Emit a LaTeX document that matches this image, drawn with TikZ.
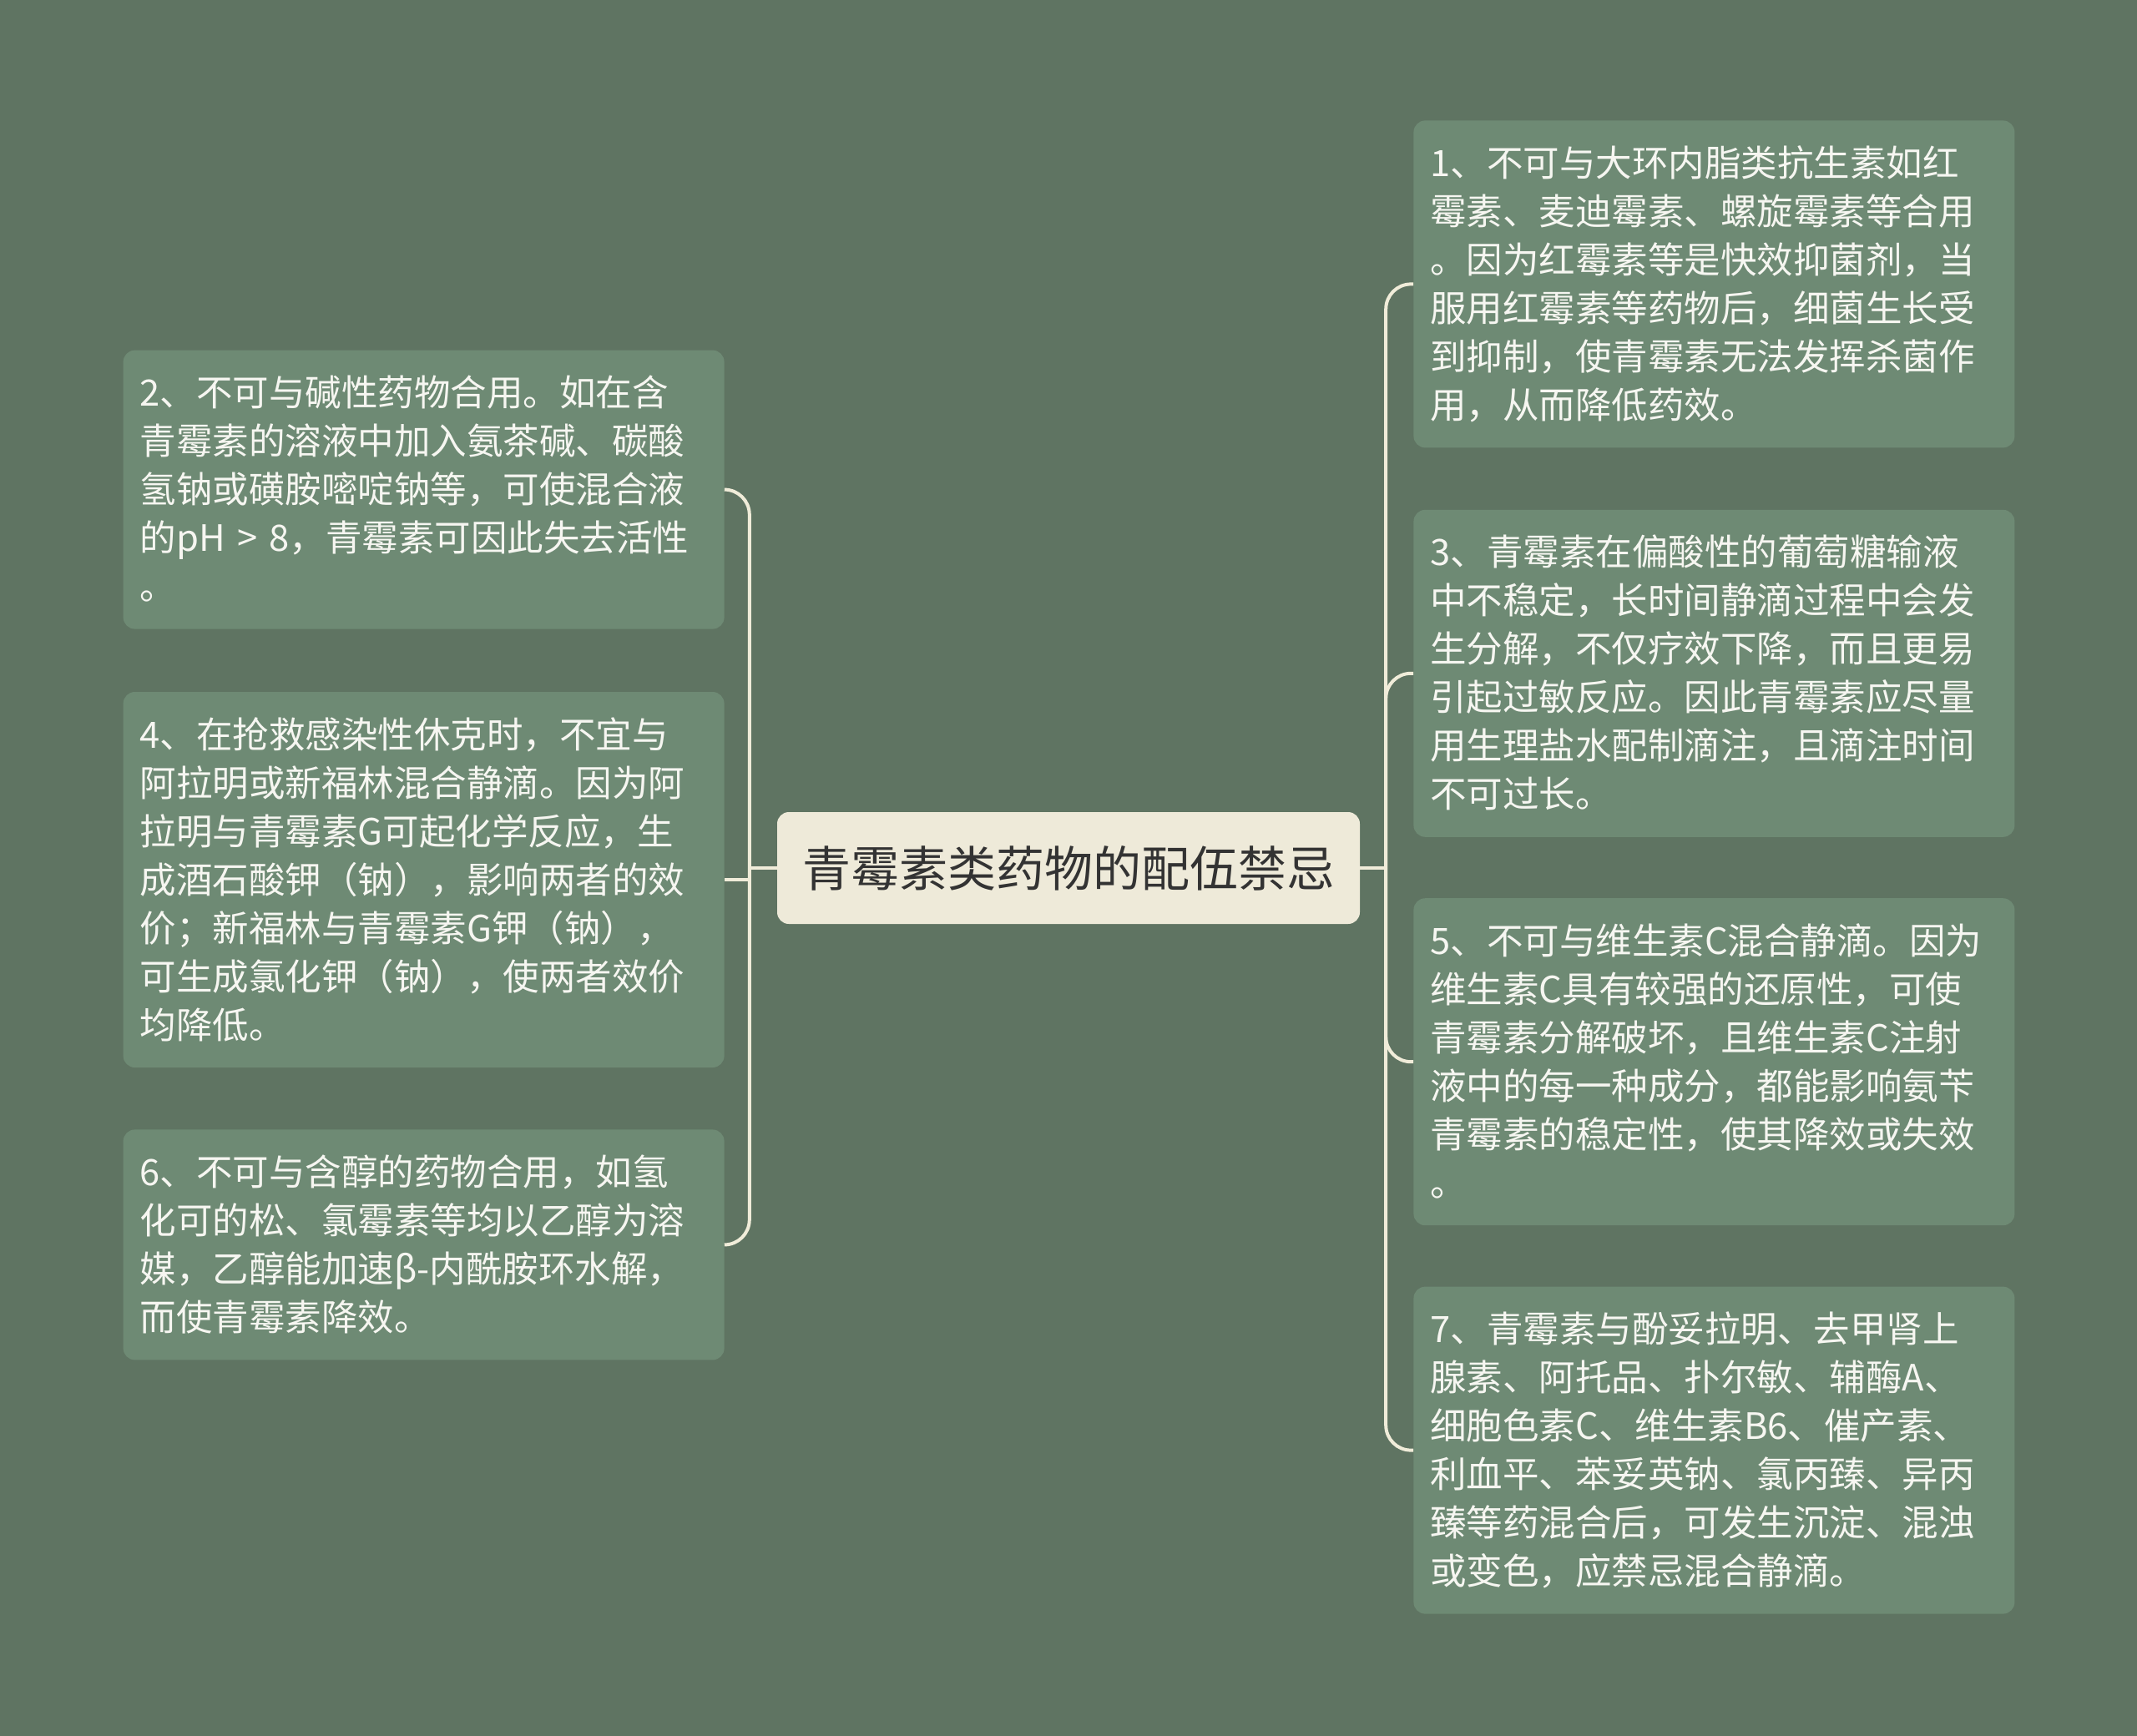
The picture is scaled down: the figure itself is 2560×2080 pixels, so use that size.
\documentclass[tikz,border=0pt]{standalone}
\usepackage{fontspec}
\setmainfont{Noto Sans CJK SC}
\usepackage{tikz}
\usetikzlibrary{positioning}
\definecolor{bgcol}{HTML}{5F7462}
\definecolor{leafcol}{HTML}{6E8A74}
\definecolor{rootcol}{HTML}{EEEAD9}
\definecolor{linkcol}{HTML}{F0ECD9}
\definecolor{leaftext}{HTML}{F6F6F1}
\tikzset{
	x=1pt,y=1pt,
	leaf/.style={fill=leafcol,text=leaftext,rounded corners=14pt,align=left,
		text width=680pt,inner xsep=20pt,inner ysep=22pt,
		font=\fontsize{43.5}{58}\selectfont,
		execute at begin node={\rule{0pt}{45pt}},
		execute at end node={\rule[-13pt]{0pt}{13pt}}},
	root/.style={fill=rootcol,text=black!80,rounded corners=14pt,
		minimum width=698pt,minimum height=134pt,inner sep=0pt,
		font=\fontsize{58}{70}\selectfont},
	link/.style={draw=linkcol,line width=4pt}
}
\begin{document}
\begin{tikzpicture}
	\fill[bgcol] (0,0) rectangle (2560,-2080);
	\useasboundingbox (0,0) rectangle (2560,-2080);

	\node [root] (root) at (1280,-1040) {青霉素类药物的配伍禁忌};

	\node [leaf,left=63pt of root.west,yshift=-14pt] (l4) {4、在抢救感染性休克时，不宜与\\阿拉明或新福林混合静滴。因为阿\\拉明与青霉素G可起化学反应，生\\成酒石酸钾（钠），影响两者的效\\价；新福林与青霉素G钾（钠），\\可生成氯化钾（钠），使两者效价\\均降低。};
	\node [leaf,above=75pt of l4] (l2) {2、不可与碱性药物合用。如在含\\青霉素的溶液中加入氨茶碱、碳酸\\氢钠或磺胺嘧啶钠等，可使混合液\\的pH > 8，青霉素可因此失去活性\\。};
	\node [leaf,below=74pt of l4] (l6) {6、不可与含醇的药物合用，如氢\\化可的松、氯霉素等均以乙醇为溶\\媒，乙醇能加速β-内酰胺环水解，\\而使青霉素降效。};

	\node [leaf,above right=37pt and 64pt of root.east] (r3) {3、青霉素在偏酸性的葡萄糖输液\\中不稳定，长时间静滴过程中会发\\生分解，不仅疗效下降，而且更易\\引起过敏反应。因此青霉素应尽量\\用生理盐水配制滴注，且滴注时间\\不可过长。};
	\node [leaf,above=74pt of r3] (r1) {1、不可与大环内脂类抗生素如红\\霉素、麦迪霉素、螺旋霉素等合用\\。因为红霉素等是快效抑菌剂，当\\服用红霉素等药物后，细菌生长受\\到抑制，使青霉素无法发挥杀菌作\\用，从而降低药效。};
	\node [leaf,below right=36pt and 64pt of root.east] (r5) {5、不可与维生素C混合静滴。因为\\维生素C具有较强的还原性，可使\\青霉素分解破坏，且维生素C注射\\液中的每一种成分，都能影响氨苄\\青霉素的稳定性，使其降效或失效\\。};
	\node [leaf,below=73pt of r5] (r7) {7、青霉素与酚妥拉明、去甲肾上\\腺素、阿托品、扑尔敏、辅酶A、\\细胞色素C、维生素B6、催产素、\\利血平、苯妥英钠、氯丙臻、异丙\\臻等药混合后，可发生沉淀、混浊\\或变色，应禁忌混合静滴。};

	\coordinate [left=33pt of root.west] (jl);
	\coordinate [right=31pt of root.east] (jr);

	\draw [link] (root.west) -- (jl);
	\draw [link] (root.east) -- (jr);
	\foreach \b in {l2,l6}
		\draw [link,rounded corners=30pt] (jl) |- (\b.east);
	\draw [link] (jl |- l4.east) -- (l4.east);
	\foreach \b in {r1,r3,r5,r7}
		\draw [link,rounded corners=30pt] (jr) |- (\b.west);
\end{tikzpicture}
\end{document}
